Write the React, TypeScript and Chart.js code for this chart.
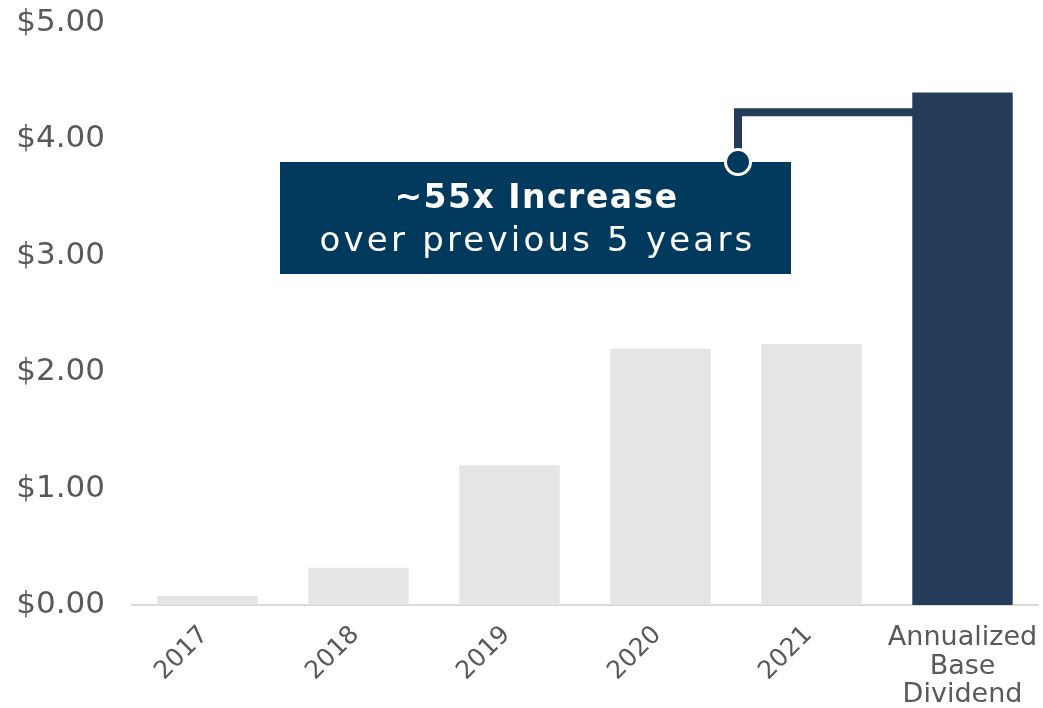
import React, { useEffect, useRef } from "react";
import { Chart, registerables } from "chart.js";

Chart.register(...registerables);

const categories: (string | string[])[] = ["2017", "2018", "2019", "2020", "2021", ["Annualized", "Base", "Dividend"]];
const dividendValues = [0.08, 0.32, 1.2, 2.2, 2.24, 4.4];
const barColors = ["#e5e5e5", "#e5e5e5", "#e5e5e5", "#e5e5e5", "#e5e5e5", "#243b5a"];
const yTickValues = [0, 1, 2, 3, 4, 5];
const calloutTitle = "~55x Increase";
const calloutSubtitle = "over previous 5 years";
const connectorValue = 4.23;

const FONT = "'DejaVu Sans', sans-serif";

const xLabelPlugin = {
  id: "xLabels",
  afterDraw(chart: any) {
    const ctx = chart.ctx;
    const xs = chart.scales.x;
    const bottom = chart.chartArea.bottom;
    ctx.save();
    ctx.fillStyle = "#595959";
    categories.forEach((lab, i) => {
      const x = xs.getPixelForValue(i);
      if (Array.isArray(lab)) {
        ctx.font = `400 27px ${FONT}`;
        ctx.textAlign = "center";
        ctx.textBaseline = "alphabetic";
        lab.forEach((line, j) => {
          ctx.fillText(line, x, bottom + 40 + j * 28.5);
        });
      } else {
        ctx.font = `400 25px ${FONT}`;
        ctx.save();
        ctx.translate(x - 3, bottom + 26);
        ctx.rotate(-Math.PI / 4);
        ctx.textAlign = "right";
        ctx.textBaseline = "middle";
        ctx.fillText(lab, 0, 0);
        ctx.restore();
      }
    });
    ctx.restore();
  },
};

const calloutPlugin = {
  id: "callout",
  afterDatasetsDraw(chart: any) {
    const ctx = chart.ctx;
    const ys = chart.scales.y;
    const bar = chart.getDatasetMeta(0).data[5];
    const barLeft = bar.x - bar.width / 2;
    const lineY = ys.getPixelForValue(connectorValue);
    const box = { left: 280, top: 162, right: 791, bottom: 274 };
    const cx = 738;
    const cy = box.top;
    ctx.save();
    ctx.fillStyle = "#023a5e";
    ctx.fillRect(box.left, box.top, box.right - box.left, box.bottom - box.top);
    ctx.strokeStyle = "#243b5a";
    ctx.lineWidth = 8;
    ctx.lineJoin = "miter";
    ctx.beginPath();
    ctx.moveTo(cx, cy);
    ctx.lineTo(cx, lineY);
    ctx.lineTo(barLeft + 1, lineY);
    ctx.stroke();
    ctx.beginPath();
    ctx.arc(cx, cy, 12.5, 0, Math.PI * 2);
    ctx.fillStyle = "#023a5e";
    ctx.fill();
    ctx.lineWidth = 3;
    ctx.strokeStyle = "#ffffff";
    ctx.stroke();
    const mid = (box.left + box.right) / 2;
    ctx.fillStyle = "#ffffff";
    ctx.textAlign = "center";
    ctx.textBaseline = "alphabetic";
    ctx.font = `700 33px ${FONT}`;
    (ctx as any).letterSpacing = "1.5px";
    ctx.fillText(calloutTitle, mid + 1, 208);
    ctx.font = `400 34px ${FONT}`;
    (ctx as any).letterSpacing = "3.2px";
    ctx.fillText(calloutSubtitle, mid + 2, 251);
    (ctx as any).letterSpacing = "0px";
    ctx.restore();
  },
};

export default function App() {
  const ref = useRef<HTMLCanvasElement | null>(null);
  useEffect(() => {
    if (!ref.current) return;
    const chart = new Chart(ref.current, {
      type: "bar",
      data: {
        labels: categories as any,
        datasets: [
          {
            data: dividendValues,
            backgroundColor: barColors,
            borderWidth: 0,
            categoryPercentage: 1,
            barPercentage: 0.665,
          },
        ],
      },
      options: {
        animation: false,
        responsive: true,
        maintainAspectRatio: false,
        layout: { padding: { top: 22.5, bottom: 103, right: 5, left: 0 } },
        plugins: { legend: { display: false }, tooltip: { enabled: false } },
        scales: {
          x: {
            ticks: { display: false },
            grid: { display: false, drawTicks: false },
            border: { display: true, color: "#d9d9d9", width: 2 },
          },
          y: {
            min: 0,
            max: 5,
            afterFit: (s: any) => {
              s.width = 132;
              s.paddingTop = 0;
              s.paddingBottom = 0;
            },
            afterBuildTicks: (s: any) => {
              s.ticks = yTickValues.map((v) => ({ value: v }));
            },
            ticks: {
              padding: 27,
              color: "#595959",
              font: { family: FONT, size: 31, weight: "400" as any },
              callback: (v: any) => "$" + Number(v).toFixed(2),
            },
            grid: { display: false, drawTicks: false },
            border: { display: false },
          },
        },
      },
      plugins: [xLabelPlugin, calloutPlugin],
    });
    return () => chart.destroy();
  }, []);
  return (
    <div style={{ position: "fixed", left: 0, top: 0, width: 1043, height: 708, background: "#ffffff" }}>
      <canvas ref={ref} />
    </div>
  );
}
